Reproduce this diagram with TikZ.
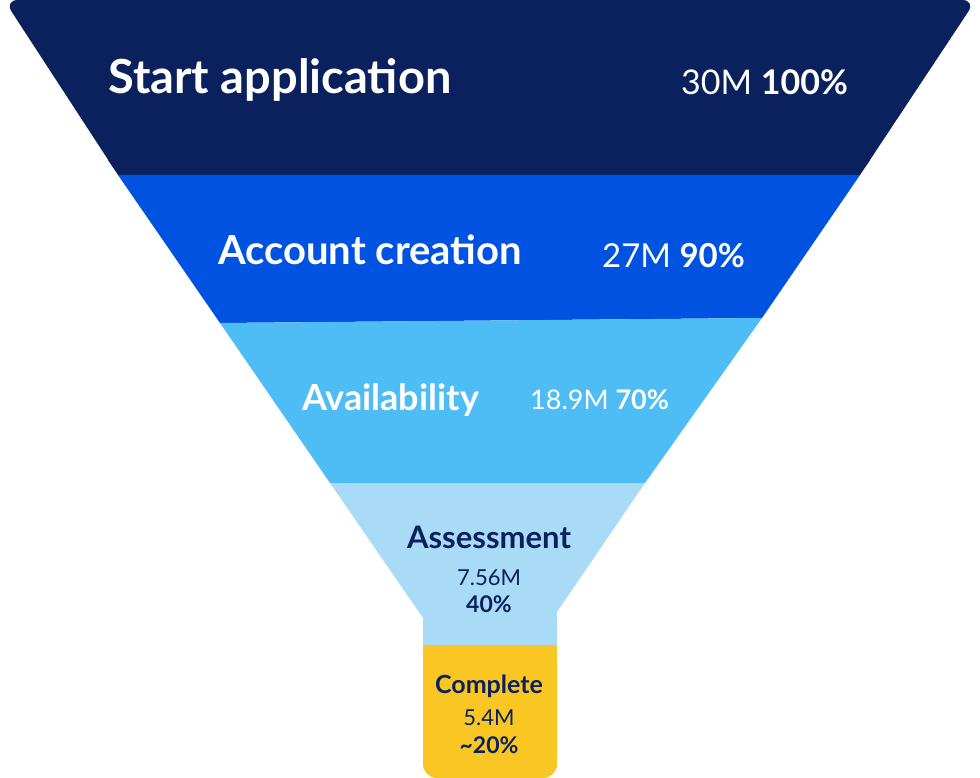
\documentclass[tikz,border=0pt]{standalone}
\usepackage{fontspec}
\setmainfont{Lato}
\definecolor{c1}{HTML}{0B215E}
\definecolor{c2}{HTML}{0052E0}
\definecolor{c3}{HTML}{4FBDF5}
\definecolor{c4}{HTML}{A9DBF7}
\definecolor{c5}{HTML}{F9C623}
\tikzset{lbl/.style={inner sep=0pt,anchor=west},
 big/.style={lbl,font=\fontsize{47}{50}\selectfont\bfseries,text=white},
 num/.style={lbl,text=white}}
\begin{document}
\begin{tikzpicture}[x=1pt,y=-1pt]
\useasboundingbox (0,0) rectangle (980,778);
\fill[c1,rounded corners=14pt] (4,0) -- (976,0) -- (860,175) -- (118,175) -- cycle;
\fill[c1] (118,175) -- (860,175) -- (870,160) -- (108,160) -- cycle;
\fill[c2] (118,175) -- (860,175) -- (762,318) -- (220,323) -- cycle;
\fill[c3] (220,323) -- (762,318) -- (645,483) -- (330,483) -- cycle;
\fill[c4] (330,483) -- (645,483) -- (557,612) -- (557,646) -- (423,646) -- (423,618) -- cycle;
\fill[c5,rounded corners=14pt] (423,645) -- (557,645) -- (557,778) -- (423,778) -- cycle;
\fill[c5] (423,645) rectangle (557,670);
\node[big] (t1) at (108,80) {Start application};
\node[num,font=\fontsize{34}{38}\selectfont] (n1) at (681,82) {30M \textbf{100\%}};
\node[big,font=\fontsize{40}{44}\selectfont\bfseries] (t2) at (218,250) {Account creation};
\node[num,font=\fontsize{33}{36}\selectfont] (n2) at (602,256) {27M \textbf{90\%}};
\node[big,font=\fontsize{36}{40}\selectfont\bfseries] (t3) at (302,400) {Availability};
\node[num,font=\fontsize{27}{30}\selectfont] (n3) at (530,400) {18.9M \textbf{70\%}};
\node[inner sep=0pt,text=c1,font=\fontsize{31}{34}\selectfont\bfseries] (t4) at (489,537) {Assessment};
\node[inner sep=0pt,text=c1,font=\fontsize{22}{25}\selectfont] (n4) at (489,578) {7.56M};
\node[inner sep=0pt,text=c1,font=\fontsize{23}{25}\selectfont\bfseries] (p4) at (489,604) {40\%};
\node[inner sep=0pt,text=c1,font=\fontsize{25}{28}\selectfont\bfseries] (t5) at (489,686) {Complete};
\node[inner sep=0pt,text=c1,font=\fontsize{22}{25}\selectfont] (n5) at (489,718) {5.4M};
\node[inner sep=0pt,text=c1,font=\fontsize{23}{25}\selectfont\bfseries] (p5) at (489,745) {\textasciitilde20\%};
\end{tikzpicture}
\end{document}
